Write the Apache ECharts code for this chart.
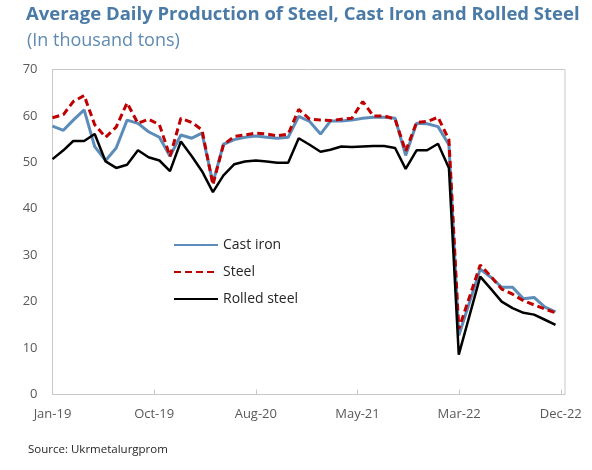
<!DOCTYPE html>
<html>
<head>
<meta charset="utf-8">
<script src="https://cdn.jsdelivr.net/npm/echarts@6/dist/echarts.min.js"></script>
<style>
  html, body { margin: 0; padding: 0; background: #fff; }
  #chart { width: 592px; height: 470px; }
</style>
</head>
<body>
<div id="chart"></div>
<script>
// monthly points, Apr-22 has no value in the source
const months = [
  '2019-01', '2019-02', '2019-03', '2019-04', '2019-05', '2019-06', '2019-07', '2019-08', '2019-09', '2019-10', '2019-11', '2019-12',
  '2020-01', '2020-02', '2020-03', '2020-04', '2020-05', '2020-06', '2020-07', '2020-08', '2020-09', '2020-10', '2020-11', '2020-12',
  '2021-01', '2021-02', '2021-03', '2021-04', '2021-05', '2021-06', '2021-07', '2021-08', '2021-09', '2021-10', '2021-11', '2021-12',
  '2022-01', '2022-02', '2022-03', '2022-04', '2022-05', '2022-06', '2022-07', '2022-08', '2022-09', '2022-10', '2022-11', '2022-12'
];

const castIron = [
  57.8, 56.9, 59.1, 61.3, 53.4, 50.4, 53.1, 59.1, 58.4, 56.6, 55.4, 51.3,
  55.9, 55.2, 56.3, 45.6, 53.9, 54.9, 55.4, 55.7, 55.4, 55.2, 55.4, 59.9,
  58.8, 56.1, 58.9, 58.9, 59.1, 59.5, 59.7, 59.7, 59.5, 51.5, 58.4, 58.3,
  57.7, 53.8, 12.7, null, 27.0, 25.2, 23.1, 23.1, 20.6, 20.9, 18.8, 17.8
];

const steel = [
  59.6, 60.3, 63.1, 64.4, 58.1, 55.4, 57.6, 62.8, 58.4, 59.3, 58.1, 51.3,
  59.5, 58.6, 57.0, 45.2, 53.8, 55.6, 55.9, 56.3, 56.1, 55.7, 56.1, 61.4,
  59.3, 59.1, 59.0, 59.3, 59.5, 63.1, 60.0, 60.0, 59.3, 52.4, 58.6, 58.8,
  59.7, 54.9, 14.1, null, 27.9, 25.4, 22.7, 21.6, 20.2, 19.3, 18.4, 17.6
];

const rolledSteel = [
  50.7, 52.6, 54.6, 54.6, 56.1, 50.2, 48.8, 49.5, 52.6, 51.1, 50.4, 48.1,
  54.5, 51.3, 48.1, 43.6, 47.2, 49.6, 50.2, 50.4, 50.2, 49.9, 49.9, 55.2,
  53.8, 52.3, 52.7, 53.4, 53.3, 53.4, 53.5, 53.5, 53.1, 48.6, 52.6, 52.6,
  54.0, 48.8, 8.6, null, 25.4, 22.7, 20.0, 18.6, 17.6, 17.2, 16.1, 15.0
];

// date axis: ticks every 289 days from 1 Jan 2019
const tickLabels = ['Jan-19', 'Oct-19', 'Aug-20', 'May-21', 'Mar-22', 'Dec-22'];
const tickDays = 289;

const DAY = 86400000;
const origin = Date.UTC(2019, 0, 1);
const dayOf = (m) => {
  const [y, mo] = m.split('-').map(Number);
  return (Date.UTC(y, mo - 1, 1) - origin) / DAY;
};
const pairs = (vals) => months.map((m, i) => [dayOf(m), vals[i]]);

const font = '"Open Sans", "Noto Sans", sans-serif';
const chart = echarts.init(document.getElementById('chart'));

chart.setOption({
  animation: false,
  textStyle: { fontFamily: font },
  title: [
    {
      text: 'Average Daily Production of Steel, Cast Iron and Rolled Steel',
      left: 21, top: 0,
      textStyle: { fontSize: 18.5, fontWeight: 'bold', color: '#4a7aa6', fontFamily: font }
    },
    {
      text: '(In thousand tons)',
      left: 22, top: 27,
      textStyle: { fontSize: 18, fontWeight: 'normal', color: '#5f8ab2', fontFamily: font }
    },
    {
      text: 'Source: Ukrmetalurgprom',
      left: 23, top: 439,
      textStyle: { fontSize: 11.5, fontWeight: 'normal', color: '#262626', fontFamily: font }
    }
  ],
  legend: {
    orient: 'vertical',
    left: 168, top: 233,
    itemWidth: 44, itemHeight: 14, itemGap: 13,
    itemStyle: { opacity: 0 },
    textStyle: { fontSize: 14, color: '#262626', fontFamily: font },
    data: ['Cast iron', 'Steel', 'Rolled steel']
  },
  grid: {
    left: 52.5, right: 27, top: 69.5, bottom: 75.5,
    show: true, borderColor: '#c8c8c8', borderWidth: 1
  },
  xAxis: {
    type: 'value',
    min: 0, max: 1457, interval: tickDays,
    axisLine: { show: true, lineStyle: { color: '#c8c8c8' } },
    axisTick: { show: true, inside: true, length: 5, lineStyle: { color: '#c8c8c8' } },
    splitLine: { show: false },
    axisLabel: {
      showMaxLabel: false,
      margin: 13, fontSize: 13, color: '#595959', fontFamily: font,
      formatter: (v) => tickLabels[Math.round(v / tickDays)] || ''
    }
  },
  yAxis: {
    type: 'value',
    min: 0, max: 70, interval: 10,
    axisLine: { show: true, lineStyle: { color: '#c8c8c8' } },
    axisTick: { show: false },
    splitLine: { show: false },
    axisLabel: { margin: 15, fontSize: 13, color: '#595959', fontFamily: font }
  },
  series: [
    {
      name: 'Cast iron', type: 'line', symbol: 'none', connectNulls: true,
      lineStyle: { color: '#5b8cba', width: 3 },
      itemStyle: { color: '#5b8cba' },
      data: pairs(castIron)
    },
    {
      name: 'Steel', type: 'line', symbol: 'none', connectNulls: true,
      lineStyle: { color: '#c00000', width: 3, type: [7, 4] },
      itemStyle: { color: '#c00000' },
      data: pairs(steel)
    },
    {
      name: 'Rolled steel', type: 'line', symbol: 'none', connectNulls: true,
      lineStyle: { color: '#000000', width: 2.5 },
      itemStyle: { color: '#000000' },
      data: pairs(rolledSteel)
    }
  ]
});
</script>
</body>
</html>
